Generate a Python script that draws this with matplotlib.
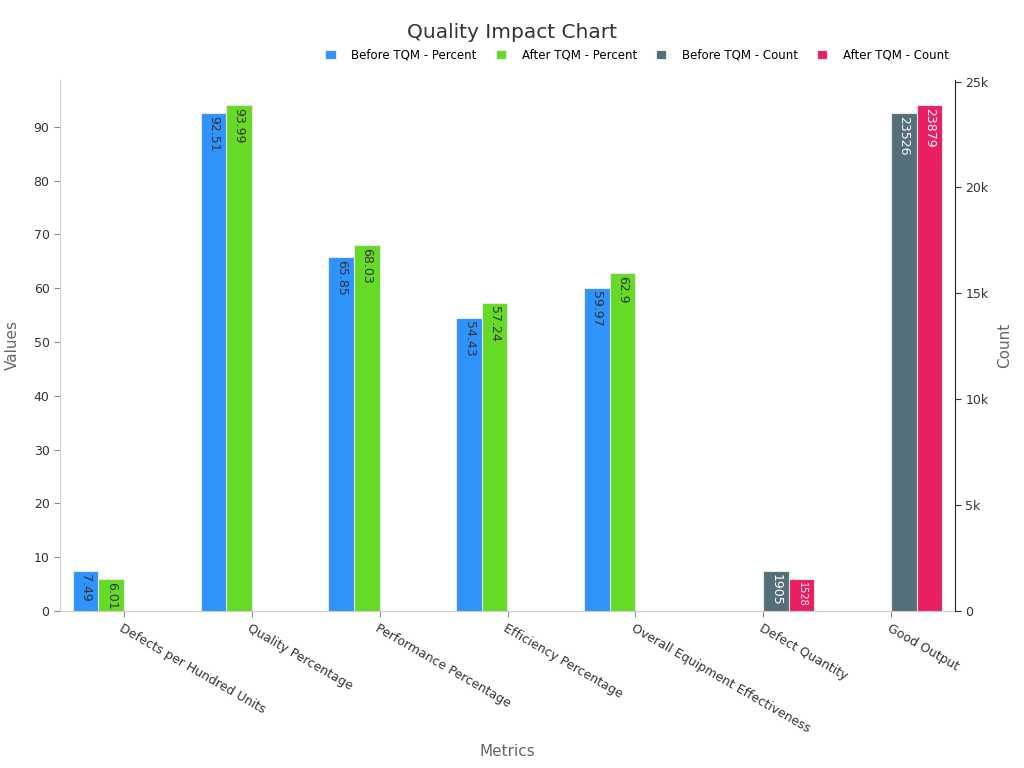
import matplotlib
matplotlib.use("Agg")
import matplotlib.pyplot as plt
import numpy as np
from matplotlib.ticker import FuncFormatter, MultipleLocator
from matplotlib.transforms import offset_copy

categories = ["Defects per Hundred Units", "Quality Percentage", "Performance Percentage",
              "Efficiency Percentage", "Overall Equipment Effectiveness", "Defect Quantity", "Good Output"]
before_pct = [7.49, 92.51, 65.85, 54.43, 59.97, None, None]
after_pct = [6.01, 93.99, 68.03, 57.24, 62.9, None, None]
before_cnt = [None, None, None, None, None, 1905, 23526]
after_cnt = [None, None, None, None, None, 1528, 23879]
series_names = ["Before TQM - Percent", "After TQM - Percent", "Before TQM - Count", "After TQM - Count"]
colors = ["#2E93FA", "#66DA26", "#546E7A", "#E91E63"]

fig = plt.figure(figsize=(10.24, 7.68), dpi=100)
ax = fig.add_axes([60/1024, 1-611/768, (955-60)/1024, (611-80)/768])
ax2 = ax.twinx()

x = np.arange(len(categories))
w = 0.2
offsets = [-1.5*w, -0.5*w, 0.5*w, 1.5*w]
data = [before_pct, after_pct, before_cnt, after_cnt]
handles = []
for i, (vals, name, col, off) in enumerate(zip(data, series_names, colors, offsets)):
    target = ax if i < 2 else ax2
    xs = [xi + off for xi, v in zip(x, vals) if v is not None]
    vs = [v for v in vals if v is not None]
    bars = target.bar(xs, vs, width=w, color=col, edgecolor="#e8e8e8", linewidth=0.8, label=name, zorder=3)
    handles.append(bars)
    trans = offset_copy(target.transData, fig=fig, x=0, y=-3, units="dots")
    for b, v in zip(bars, vs):
        txt = f"{v:g}" if i < 2 else f"{int(v)}"
        fs = 9
        if i >= 2 and v < 1600:
            fs = 7
        target.text(b.get_x() + b.get_width()/2, b.get_height(), txt, rotation=-90,
                    ha="center", va="top", fontsize=fs,
                    color="#333333" if i < 2 else "white", zorder=4,
                    transform=trans)

ax.set_xlim(-0.5, 6.5)
ax.set_ylim(0, 93.99*1.05)
ax2.set_ylim(0, 23879*1.05)
ax.yaxis.set_major_locator(MultipleLocator(10))
ax2.yaxis.set_major_locator(MultipleLocator(5000))
ax2.yaxis.set_major_formatter(FuncFormatter(lambda v, p: "0" if v == 0 else f"{int(v/1000)}k"))

ax.set_xticks(x)
ax.set_xticklabels(categories, rotation=-30, ha="left", rotation_mode="anchor", fontsize=9, color="#333333")
ax.tick_params(axis="x", length=4, color="#888888", pad=4)
ax.tick_params(axis="y", length=4, color="#888888", labelsize=9, labelcolor="#333333")
ax2.tick_params(axis="y", length=4, color="#333333", labelsize=9, labelcolor="#333333")

for s in ["top", "right"]:
    ax.spines[s].set_visible(False)
for s in ["top", "left", "bottom"]:
    ax2.spines[s].set_visible(False)
ax.spines["left"].set_color("#cccccc")
ax.spines["bottom"].set_color("#cccccc")
ax2.spines["right"].set_color("#222222")

ax.set_ylabel("Values", fontsize=11, color="#666666")
ax2.set_ylabel("Count", fontsize=11, color="#666666", labelpad=6)
ax.set_xlabel("Metrics", fontsize=11, color="#666666")
ax.yaxis.set_label_coords(-(60-20)/895, 0.5)
ax.xaxis.set_label_coords(0.5, -(744-611)/531)

fig.text(512/1024, 1-33/768, "Quality Impact Chart", ha="center", va="center", fontsize=14.5, color="#333333")
fig.legend(handles=handles, labels=series_names, loc="center", bbox_to_anchor=(637/1024, 1-55/768),
           ncol=4, frameon=False, fontsize=8.5, handlelength=0.9, handleheight=0.9,
           columnspacing=1.6, handletextpad=1.3)

fig.savefig("out.png", dpi=100)
